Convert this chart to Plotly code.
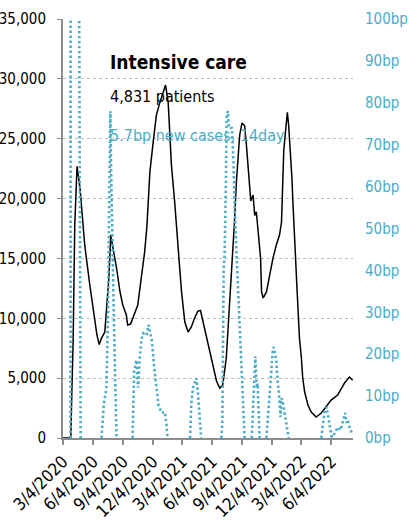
import plotly.graph_objects as go

# ── Palette ──────────────────────────────────────────────────────────────────
TEAL = "#4BACC6"
BLACK = "#000000"
AXIS = "#8C8C8C"
GRID = "#BDBDBD"
FONT = "DejaVu Sans Condensed, Roboto, sans-serif"

# ── Data: ICU patients (left axis) ───────────────────────────────────────────
icu_dates = [
    "2020-03-04", "2020-03-28", "2020-03-31", "2020-04-04", "2020-04-09", "2020-04-13",
    "2020-04-16", "2020-04-25", "2020-04-30", "2020-05-05", "2020-05-10", "2020-05-25",
    "2020-06-03", "2020-06-16", "2020-06-23", "2020-06-30", "2020-07-10", "2020-07-15",
    "2020-07-23", "2020-07-28", "2020-08-03", "2020-08-15", "2020-08-25", "2020-09-03",
    "2020-09-14", "2020-09-18", "2020-09-27", "2020-10-04", "2020-10-10", "2020-10-19",
    "2020-10-28", "2020-11-09", "2020-11-16", "2020-11-25", "2020-12-05", "2020-12-15",
    "2020-12-25", "2021-01-04", "2021-01-12", "2021-01-20", "2021-01-25", "2021-01-30",
    "2021-02-09", "2021-02-14", "2021-02-22", "2021-03-02", "2021-03-12", "2021-03-22",
    "2021-04-01", "2021-04-11", "2021-04-21", "2021-04-29", "2021-05-07", "2021-05-17",
    "2021-05-27", "2021-06-06", "2021-06-17", "2021-06-27", "2021-07-06", "2021-07-17",
    "2021-07-27", "2021-08-05", "2021-08-11", "2021-08-17", "2021-08-22", "2021-08-27",
    "2021-09-03", "2021-09-11", "2021-09-16", "2021-09-21", "2021-09-30", "2021-10-07",
    "2021-10-12", "2021-10-17", "2021-10-22", "2021-10-30", "2021-11-02", "2021-11-07",
    "2021-11-17", "2021-11-27", "2021-12-07", "2021-12-17", "2021-12-27", "2022-01-02",
    "2022-01-09", "2022-01-14", "2022-01-20", "2022-01-24", "2022-01-27", "2022-02-01",
    "2022-02-03", "2022-02-06", "2022-02-09", "2022-02-14", "2022-02-19", "2022-02-23",
    "2022-02-26", "2022-03-04", "2022-03-08", "2022-03-14", "2022-03-24", "2022-04-03",
    "2022-04-18", "2022-05-04", "2022-05-19", "2022-06-03", "2022-06-23", "2022-07-04",
    "2022-07-14", "2022-07-29", "2022-08-08",
]
icu_patients = [
    0, 0, 3800, 8000, 17800, 20500,
    22700, 20900, 19200, 17500, 16000, 12800,
    11200, 8600, 7800, 8350, 8850, 10850,
    13600, 16950, 16100, 14200, 12300, 11100,
    10270, 9440, 9520, 10000, 10500, 11100,
    13030, 15530, 17700, 22200, 24700, 26970,
    27970, 28890, 29480, 28060, 25550, 22800,
    19700, 17600, 15030, 12200, 9690, 8850,
    9270, 10020, 10600, 10650, 9690, 8600,
    7200, 6100, 4760, 4170, 4420, 6680,
    10850, 15030, 18000, 21400, 23600, 25300,
    26300, 26100, 24700, 22800, 19800, 20300,
    18600, 18900, 17500, 15030, 12200, 11700,
    12200, 13600, 15030, 16100, 16950, 18000,
    24000, 25500, 27200, 26100, 24700, 23400,
    21700, 19700, 17600, 15030, 12200, 10020,
    8350, 6680, 5010, 3840, 2760, 2170,
    1750, 2090, 2590, 3170, 3590, 4170,
    4590, 5090, 4831,
]

# ── Data: new cases, 14 day, basis points (right axis); None = gap ──────────
case_dates = [
    "2020-03-27", "2020-03-28", "2020-04-20", "2020-04-27", "2020-05-01",
    "2020-06-30", "2020-07-07", "2020-07-15", "2020-07-20", "2020-07-24", "2020-07-27",
    "2020-07-29", "2020-08-01", "2020-08-09", "2020-08-15", "2020-08-20",
    "2020-10-03", "2020-10-05", "2020-10-08", "2020-10-15", "2020-10-20", "2020-10-25",
    "2020-10-30", "2020-11-04", "2020-11-15", "2020-11-21", "2020-12-01", "2020-12-08",
    "2020-12-15", "2020-12-21", "2020-12-31", "2021-01-10", "2021-01-15", "2021-01-18",
    "2021-01-25",
    "2021-03-28", "2021-04-01", "2021-04-06", "2021-04-11", "2021-04-16", "2021-04-21",
    "2021-04-26", "2021-05-01", "2021-05-05",
    "2021-07-02", "2021-07-05", "2021-07-09", "2021-07-12", "2021-07-16", "2021-07-18",
    "2021-07-22", "2021-07-25", "2021-08-03", "2021-08-08", "2021-08-13", "2021-08-28",
    "2021-09-11", "2021-09-15",
    "2021-10-03", "2021-10-06", "2021-10-09", "2021-10-12", "2021-10-14", "2021-10-17",
    "2021-10-19", "2021-10-21", "2021-10-24", "2021-10-27", "2021-11-01",
    "2021-11-17", "2021-11-22", "2021-11-27", "2021-12-02", "2021-12-06", "2021-12-09",
    "2021-12-14", "2021-12-17", "2021-12-21", "2021-12-26", "2021-12-30", "2022-01-02",
    "2022-01-05", "2022-01-08", "2022-01-14", "2022-01-19", "2022-01-24", "2022-01-30",
    "2022-05-04", "2022-05-09", "2022-05-14", "2022-05-20", "2022-05-24", "2022-05-28",
    "2022-06-01", "2022-06-05", "2022-06-15", "2022-06-23", "2022-07-02", "2022-07-11",
    "2022-07-16", "2022-07-20", "2022-07-24", "2022-07-29", "2022-08-04", "2022-08-08",
]
case_bp = [
    0, 400, 160, 0, None,
    0, 8, 12, 30, 60, 78,
    65, 50, 20, 0, None,
    0, 8, 16, 18.6, 12, 19.3,
    23.3, 25, 24.5, 27, 23.3, 17,
    11.5, 7.9, 6, 6.2, 3.1, 0,
    None,
    0, 8.3, 12, 13, 14.3, 11,
    6.2, 0, None,
    0, 4, 40, 44, 62, 77,
    78, 74, 74, 66, 52, 25,
    0, None,
    0, 5, 11, 17, 19.5, 14,
    12, 13, 6, 0, None,
    0, 6, 12, 17, 20.5, 21.7,
    20, 18.6, 13.8, 10, 5, 9.5,
    9, 7.4, 4.3, 2, 0, None,
    0, 3, 6.2, 7.4, 5.5, 3.5,
    2.6, 0.2, 1.2, 2.6, 1.9, 5,
    6, 3.6, 4.3, 2.6, 1.2, 0.7,
]

tick_dates = ["2020-03-04", "2020-06-04", "2020-09-04", "2020-12-04", "2021-03-04",
              "2021-06-04", "2021-09-04", "2021-12-04", "2022-03-04", "2022-06-04"]
tick_text = ["3/4/2020", "6/4/2020", "9/4/2020", "12/4/2020", "3/4/2021",
             "6/4/2021", "9/4/2021", "12/4/2021", "3/4/2022", "6/4/2022"]

left_ticks = [0, 5000, 10000, 15000, 20000, 25000, 30000, 35000]
right_ticks = [0, 10, 20, 30, 40, 50, 60, 70, 80, 90, 100]

fig = go.Figure()
fig.add_trace(go.Scatter(
    x=case_dates, y=case_bp, yaxis="y2", mode="lines",
    line=dict(color=TEAL, width=2.6, dash="2.4px,2.6px"),
    connectgaps=False, hoverinfo="skip",
))
fig.add_trace(go.Scatter(
    x=icu_dates, y=icu_patients, mode="lines",
    line=dict(color=BLACK, width=1.5),
))

fig.update_layout(
    width=409, height=525,
    margin=dict(l=63, r=56, t=19, b=87),
    paper_bgcolor="white", plot_bgcolor="white",
    showlegend=False,
    font=dict(family=FONT, size=15, color=BLACK),
    xaxis=dict(
        type="date", range=["2020-03-04", "2022-08-09"], automargin=False,
        tickvals=tick_dates, ticktext=tick_text, tickangle=-45,
        showgrid=False, showline=True, linecolor=AXIS, linewidth=2,
        ticks="outside", ticklen=5, tickcolor=AXIS, tickwidth=1.5,
        tickfont=dict(size=17, color=BLACK),
    ),
    yaxis=dict(
        range=[0, 35000], tickvals=left_ticks, tickformat=",d", automargin=False,
        showgrid=True, gridcolor=GRID, griddash="dot", gridwidth=1,
        showline=True, linecolor=AXIS, linewidth=2,
        ticks="outside", ticklen=4, tickcolor=AXIS,
        ticklabelstandoff=8, zeroline=False,
        tickfont=dict(size=15, color=BLACK),
    ),
    yaxis2=dict(
        range=[0, 100], tickvals=right_ticks, automargin=False,
        ticktext=[f"{v}bp" for v in right_ticks],
        overlaying="y", side="right", showgrid=False, showline=False,
        zeroline=False, ticks="", ticklabelstandoff=11,
        tickfont=dict(size=15, color=TEAL),
    ),
)

fig.add_annotation(text="<b>Intensive care</b>", xref="paper", yref="paper",
                   x=0.155, y=0.897, xanchor="left", yanchor="middle", showarrow=False,
                   font=dict(size=19, color=BLACK))
fig.add_annotation(text="4,831 patients", xref="paper", yref="paper",
                   x=0.155, y=0.814, xanchor="left", yanchor="middle", showarrow=False,
                   font=dict(size=16, color=BLACK))
fig.add_annotation(text="5.7bp new cases, 14day", xref="paper", yref="paper",
                   x=0.155, y=0.723, xanchor="left", yanchor="middle", showarrow=False,
                   font=dict(size=16, color=TEAL))

# drop the browser's default 8px body margin so the figure fills the window
fig.write_html("out.html", config={"displayModeBar": False},
               post_script="document.body.style.margin = '0';")
